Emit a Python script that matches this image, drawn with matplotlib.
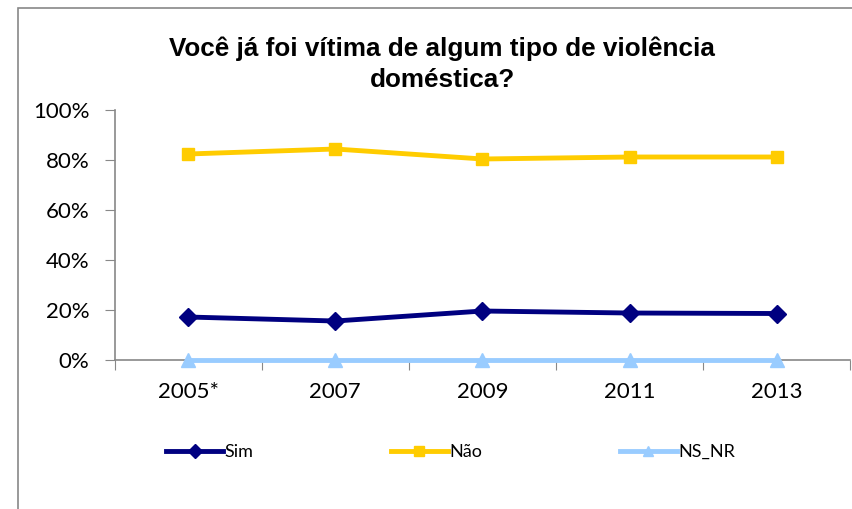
import matplotlib.pyplot as plt
from matplotlib.patches import Rectangle
from matplotlib.ticker import PercentFormatter

anos = ["2005*", "2007", "2009", "2011", "2013"]
sim = [17.2, 15.6, 19.6, 18.8, 18.6]
nao = [82.4, 84.4, 80.4, 81.2, 81.2]
ns_nr = [0, 0, 0, 0, 0]

plt.rcParams['font.family'] = ['Lato', 'DejaVu Sans']

fig = plt.figure(figsize=(8.52, 5.09), dpi=100)
ax = fig.add_axes([0.1344, 0.2927, 0.8636, 0.4912])

# chart frame
fig.patches.append(Rectangle((18 / 852, -0.1), 1.2, 1 - 8 / 509 + 0.1,
                             transform=fig.transFigure, fill=False,
                             edgecolor='#888888', linewidth=1.2))

x = list(range(len(anos)))
ax.plot(x, sim, color='#000080', lw=3.5, marker='D', ms=9, label='Sim', clip_on=False)
ax.plot(x, nao, color='#FFCC00', lw=3.5, marker='s', ms=9, label='Não', clip_on=False)
ax.plot(x, ns_nr, color='#99CCFF', lw=3.5, marker='^', ms=10, label='NS_NR', clip_on=False, zorder=5)

ax.set_xlim(-0.5, len(anos) - 0.5)
ax.set_ylim(0, 100)
ax.set_yticks(range(0, 101, 20))
ax.yaxis.set_major_formatter(PercentFormatter(decimals=0))
ax.set_xticks([i + 0.5 for i in range(-1, len(anos))])
ax.set_xticklabels([])
ax.set_xticks(x, minor=True)
ax.set_xticklabels(anos, minor=True)
ax.tick_params(axis='x', which='major', length=7, color='#888888', direction='out')
ax.tick_params(axis='x', which='minor', length=0, pad=16, labelsize=16)
ax.tick_params(axis='y', length=7, color='#888888', labelsize=16, pad=11)

for s in ['top', 'right']:
    ax.spines[s].set_visible(False)
for s in ['left', 'bottom']:
    ax.spines[s].set_color('#888888')
    ax.spines[s].set_linewidth(1.2)

fig.text(0.519, 0.874, "Você já foi vítima de algum tipo de violência\ndoméstica?",
         ha='center', va='center', fontsize=18.8, fontweight='bold', linespacing=1.4,
         family=['Liberation Sans', 'DejaVu Sans'])

fig.legend(loc='center left', bbox_to_anchor=(0.176, 0.112), ncol=3, frameon=False,
           fontsize=13, handlelength=3.15, handletextpad=0.1, columnspacing=7.6,
           markerscale=0.75)

fig.savefig('out.png', dpi=100)
